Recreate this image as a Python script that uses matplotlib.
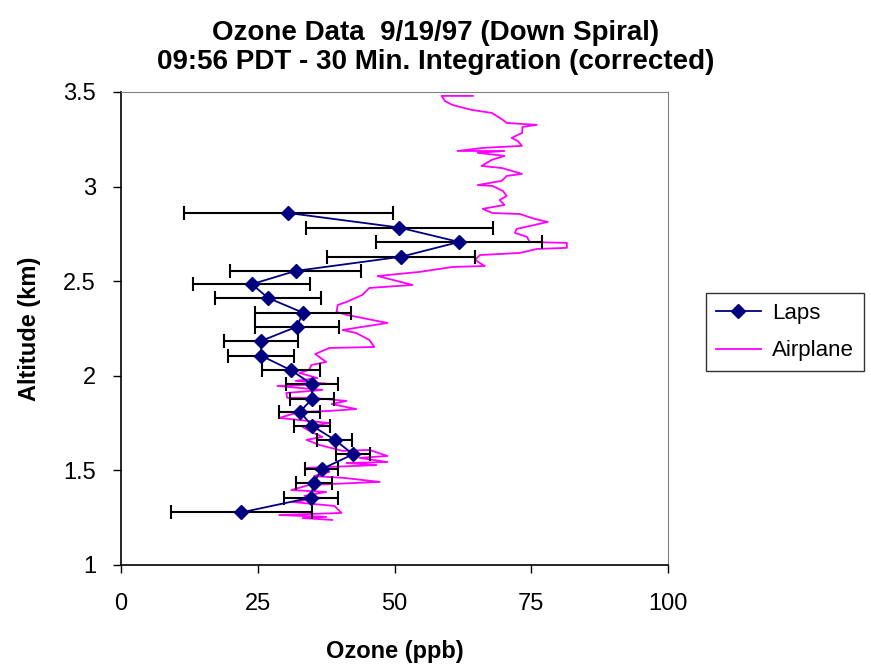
import matplotlib
matplotlib.use("Agg")
import matplotlib.pyplot as plt

plt.rcParams['font.family'] = ['Liberation Sans', 'DejaVu Sans']

# Laps profile (ozone ppb, altitude km, error half-width ppb)
laps_alt = [2.86, 2.783, 2.707, 2.629, 2.554, 2.484, 2.411, 2.334, 2.26, 2.184, 2.106,
            2.029, 1.955, 1.877, 1.81, 1.736, 1.661, 1.585, 1.507, 1.432, 1.356, 1.278]
laps_ozone = [30.6, 50.9, 61.8, 51.2, 31.9, 23.9, 26.9, 33.2, 32.2, 25.6, 25.6,
              31.1, 34.9, 34.9, 32.7, 34.9, 39.1, 42.4, 36.7, 35.2, 34.7, 22.0]
laps_err = [19.1, 17.1, 15.2, 13.5, 12.0, 10.7, 9.7, 8.75, 7.7, 6.8, 6.1,
            5.25, 4.8, 4.1, 3.75, 3.25, 3.2, 3.15, 3.0, 3.3, 5.0, 12.85]

# Airplane trace
plane_ozone = [64.3, 58.6, 59.2, 60.6, 64.1, 67.8, 69.8, 70.5, 76.0, 73.4, 73.3, 71.4,
               72.5, 73.3, 66.1, 61.5, 70.1, 65.2, 70.1, 67.8, 65.9, 69.6, 73.3, 70.5,
               69.6, 65.2, 67.9, 69.8, 70.5, 69.2, 70.1, 66.1, 67.9, 72.9, 75.6, 78.0,
               75.6, 72.3, 72.0, 74.2, 74.7, 81.5, 81.5, 76.0, 72.9, 65.6, 64.7, 66.5,
               60.6, 54.6, 46.9, 53.3, 45.4, 44.1, 41.2, 39.6, 39.4, 41.4, 48.7, 40.5,
               43.0, 45.4, 46.3, 38.1, 35.5, 37.5, 34.8, 34.4, 32.6, 35.9, 31.9, 38.1,
               28.6, 36.8, 30.2, 30.4, 35.0, 41.2, 38.5, 43.0, 38.1, 32.6, 28.9, 38.1,
               33.2, 34.8, 36.8, 33.9, 36.3, 40.5, 45.4, 48.7, 43.6, 48.7, 41.2, 46.7,
               33.9, 38.1, 35.3, 40.8, 47.3, 34.4, 31.1, 37.5, 33.5, 36.8, 31.3, 39.0,
               40.3, 28.9, 37.5, 33.2, 38.6]
plane_alt = [3.479, 3.479, 3.452, 3.431, 3.405, 3.389, 3.352, 3.336, 3.326, 3.315, 3.283, 3.257,
             3.241, 3.215, 3.204, 3.188, 3.188, 3.178, 3.162, 3.141, 3.109, 3.098, 3.067, 3.056,
             3.030, 3.008, 3.003, 2.977, 2.950, 2.929, 2.903, 2.882, 2.860, 2.855, 2.829, 2.813,
             2.797, 2.776, 2.755, 2.734, 2.707, 2.702, 2.676, 2.670, 2.649, 2.638, 2.612, 2.580,
             2.575, 2.549, 2.527, 2.480, 2.464, 2.427, 2.390, 2.374, 2.337, 2.321, 2.279, 2.242,
             2.226, 2.189, 2.152, 2.147, 2.115, 2.073, 2.057, 2.031, 2.015, 1.988, 1.973, 1.957,
             1.946, 1.925, 1.909, 1.883, 1.883, 1.867, 1.851, 1.824, 1.814, 1.809, 1.777, 1.750,
             1.729, 1.703, 1.677, 1.661, 1.634, 1.603, 1.608, 1.576, 1.566, 1.544, 1.539, 1.528,
             1.513, 1.492, 1.470, 1.460, 1.439, 1.423, 1.396, 1.386, 1.365, 1.354, 1.333, 1.312,
             1.275, 1.264, 1.254, 1.248, 1.238]

x_ticks = [0, 25, 50, 75, 100]
y_ticks = [1, 1.5, 2, 2.5, 3, 3.5]
y_labels = ["1", "1.5", "2", "2.5", "3", "3.5"]

fig = plt.figure(figsize=(8.71, 6.71), dpi=100)
ax = fig.add_axes([0.139, 0.158, 0.628, 0.705])

ax.errorbar(laps_ozone, laps_alt, xerr=laps_err, fmt='none', ecolor='black',
            elinewidth=1.5, capsize=5, capthick=1.5, zorder=2)
ax.plot(laps_ozone, laps_alt, color='#000080', marker='D', markersize=7,
        linewidth=1.3, label='Laps', zorder=3)
ax.plot(plane_ozone, plane_alt, color='#FF00FF', linewidth=1.3, label='Airplane', zorder=1)

ax.set_xlim(0, 100)
ax.set_ylim(1, 3.5)
ax.set_xticks(x_ticks)
ax.set_yticks(y_ticks)
ax.set_yticklabels(y_labels)
ax.tick_params(labelsize=17, direction='out', length=6, width=1)
ax.tick_params(axis='y', pad=12)
ax.tick_params(axis='x', pad=14)

for side in ['top', 'right']:
    ax.spines[side].set_color('#808080')
for side in ['left', 'bottom']:
    ax.spines[side].set_linewidth(1.2)

ax.set_xlabel("Ozone (ppb)", fontsize=17, fontweight='bold', labelpad=18)
ax.set_ylabel("Altitude (km)", fontsize=17, fontweight='bold', labelpad=16)

fig.text(0.5, 1 - 33 / 671, "Ozone Data  9/19/97 (Down Spiral)",
         ha='center', va='center', fontsize=20, fontweight='bold')
fig.text(0.5, 1 - 62 / 671, "09:56 PDT - 30 Min. Integration (corrected)",
         ha='center', va='center', fontsize=20, fontweight='bold')

leg = fig.legend(loc='center left', bbox_to_anchor=(0.803, 0.505), fontsize=16,
                 frameon=True, fancybox=False, edgecolor='black', handlelength=2.0,
                 labelspacing=0.75, borderpad=0.45, handletextpad=0.5, borderaxespad=0.3)
leg.get_frame().set_linewidth(1)

fig.savefig("out.png", dpi=100)
